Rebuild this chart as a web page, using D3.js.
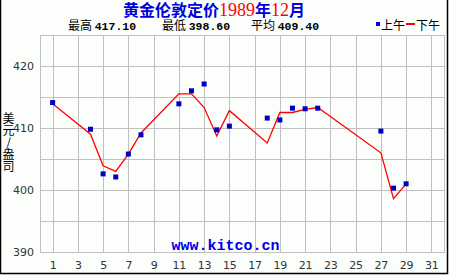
<!DOCTYPE html>
<html>
  <head>
    <meta http-equiv="Content-Type" content="text/html;charset=utf-8"/>
    <title>黄金伦敦定价</title>
    <script src="https://d3js.org/d3.v7.min.js"></script>
    <style>
      body { margin: 0; background: #fff; }
      #content { position: relative; }
      text { font-family: "Noto Sans CJK SC", "DejaVu Sans", sans-serif; }
    </style>
  </head>
  <body>
    <div id="content"></div>
    <script type="text/javascript">

        // trading days of december 1989
        const days = [1, 4, 5, 6, 7, 8, 11, 12, 13, 14, 15, 18, 19, 20, 21, 22, 27, 28, 29]
        // morning fix (上午)
        const amPrice = [414.1, 409.8, 402.6, 402.1, 405.8, 408.9, 413.9, 416.0, 417.1, 409.7,
                         410.3, 411.6, 411.3, 413.2, 413.1, 413.2, 409.5, 400.3, 401.0]
        // afternoon fix (下午)
        const pmPrice = [413.9, 409.0, 403.9, 403.0, 405.8, 409.2, 415.5, 415.5, 413.3, 408.7,
                         412.8, 407.6, 412.5, 412.5, 413.0, 413.3, 406.0, 398.6, 401.0]

        const xTicks = [1, 3, 5, 7, 9, 11, 13, 15, 17, 19, 21, 23, 25, 27, 29, 31]
        const yTicks = [390, 400, 410, 420]
        const yGrid = [390, 395, 400, 405, 410, 415, 420, 425]
        const stats = [
            { label: '最高', value: '417.10' },
            { label: '最低', value: '398.60' },
            { label: '平均', value: '409.40' }
        ]

        const width = 450,
            height = 275,
            plotLeft = 40,
            plotRight = 444,
            plotTop = 35,
            plotBottom = 252

        const xScale = d3.scaleLinear().domain([0, 32]).range([plotLeft, plotRight])
        const yScale = d3.scaleLinear().domain([390, 425]).range([plotBottom, plotTop])

        const svg = d3.select('#content').append('svg')
            .attr('width', width).attr('height', height)

        svg.append('rect').attr('width', width).attr('height', height).attr('fill', '#fcfefc')

        // outer frame: left, right, bottom
        svg.append('path')
            .attr('d', 'M0.5,0V273.5H447.5V0')
            .attr('fill', 'none').attr('stroke', '#000').attr('stroke-width', 1.5)

        // grid
        svg.append('g').selectAll('line').data(yGrid).enter().append('line')
            .attr('x1', plotLeft).attr('x2', plotRight)
            .attr('y1', d => Math.round(yScale(d)) + 0.5)
            .attr('y2', d => Math.round(yScale(d)) + 0.5)
            .attr('stroke', '#c0c0c0').attr('stroke-width', 1)

        svg.append('g').selectAll('line').data(xTicks).enter().append('line')
            .attr('x1', d => Math.round(xScale(d)) + 0.5)
            .attr('x2', d => Math.round(xScale(d)) + 0.5)
            .attr('y1', plotTop).attr('y2', plotBottom)
            .attr('stroke', '#c0c0c0').attr('stroke-width', 1)

        svg.append('rect')
            .attr('x', plotLeft + 0.5).attr('y', plotTop + 0.5)
            .attr('width', plotRight - plotLeft).attr('height', plotBottom - plotTop)
            .attr('fill', 'none').attr('stroke', '#c0c0c0')

        // axes (labels only)
        const yAxis = d3.axisLeft(yScale).tickValues(yTicks).tickSize(0).tickPadding(6)
        svg.append('g').attr('transform', 'translate(' + plotLeft + ',0)').call(yAxis)
        const xAxis = d3.axisBottom(xScale).tickValues(xTicks).tickSize(0).tickPadding(9)
        svg.append('g').attr('transform', 'translate(0,' + plotBottom + ')').call(xAxis)
        svg.selectAll('.domain').remove()
        svg.selectAll('.tick text')
            .attr('fill', '#333')
            .style('font-family', '"DejaVu Sans", sans-serif')
            .style('font-size', '11px')

        // y title, written top to bottom
        svg.append('text')
            .attr('x', 8.5).attr('y', 112)
            .style('writing-mode', 'vertical-rl')
            .style('text-orientation', 'upright')
            .style('font-size', '12px').attr('fill', '#000')
            .text('美元/盎司')

        // watermark
        svg.append('text')
            .attr('x', 225.5).attr('y', 250)
            .attr('text-anchor', 'middle')
            .style('font-family', '"Liberation Mono", monospace')
            .style('font-size', '15px').style('font-weight', 'bold')
            .attr('fill', '#0000ee')
            .text('www.kitco.cn')

        // afternoon line
        const line = d3.line()
            .x((d, i) => xScale(days[i]))
            .y(d => yScale(d))
        svg.append('path')
            .datum(pmPrice)
            .attr('d', line)
            .attr('fill', 'none')
            .attr('stroke', '#ff0000')
            .attr('stroke-width', 1.3)

        // morning squares
        svg.append('g').selectAll('rect').data(amPrice).enter().append('rect')
            .attr('x', (d, i) => xScale(days[i]) - 2.5)
            .attr('y', d => yScale(d) - 2.5)
            .attr('width', 5).attr('height', 5)
            .attr('fill', '#0000c0')

        // title
        const title = svg.append('text')
            .attr('x', 214).attr('y', 16)
            .attr('text-anchor', 'middle')
            .style('font-size', '16px').style('font-weight', 'bold')
        title.append('tspan').attr('fill', '#0000e0').text('黄金伦敦定价')
        title.append('tspan').attr('fill', '#ff0000')
            .style('font-family', '"Liberation Serif", serif').style('font-weight', 'normal')
            .style('font-size', '18px').text('1989')
        title.append('tspan').attr('fill', '#0000e0').text('年')
        title.append('tspan').attr('fill', '#ff0000')
            .style('font-family', '"Liberation Serif", serif').style('font-weight', 'normal')
            .style('font-size', '18px').text('12')
        title.append('tspan').attr('fill', '#0000e0').text('月')

        // stats line
        const statX = [68, 162, 251]
        stats.forEach((s, i) => {
            const t = svg.append('text').attr('x', statX[i]).attr('y', 30).attr('fill', '#000')
            t.append('tspan').style('font-size', '12px').text(s.label + ' ')
            t.append('tspan')
                .style('font-family', '"Liberation Mono", monospace')
                .style('font-weight', 'bold').style('font-size', '11.5px')
                .text(s.value)
        })

        // legend
        svg.append('rect').attr('x', 376).attr('y', 22).attr('width', 4).attr('height', 4).attr('fill', '#0000e0')
        svg.append('text').attr('x', 381).attr('y', 30).style('font-size', '12px').attr('fill', '#000').text('上午')
        svg.append('rect').attr('x', 406).attr('y', 23).attr('width', 9).attr('height', 2).attr('fill', '#ff0000')
        svg.append('text').attr('x', 416).attr('y', 30).style('font-size', '12px').attr('fill', '#000').text('下午')

    </script>
  </body>
</html>
